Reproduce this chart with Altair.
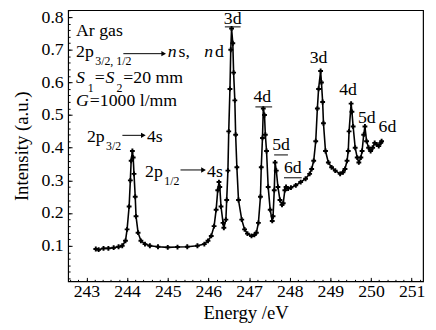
import altair as alt
import pandas as pd

# ---- spectrum ----
energy = [243.23, 243.30, 243.42, 243.54, 243.67, 243.79, 243.88, 243.96, 244.00, 244.05,
          244.08, 244.10, 244.13, 244.15, 244.17, 244.20, 244.22, 244.27, 244.34, 244.44,
          244.56, 244.76, 245.00, 245.24, 245.48, 245.73, 245.90, 245.99, 246.07, 246.14,
          246.19, 246.23, 246.26, 246.28, 246.31, 246.36, 246.38, 246.43, 246.45, 246.48,
          246.50, 246.53, 246.55, 246.57, 246.60, 246.62, 246.65, 246.67, 246.70, 246.74,
          246.82, 246.89, 246.96, 247.06, 247.13, 247.18, 247.23, 247.28, 247.30, 247.33,
          247.35, 247.38, 247.40, 247.43, 247.47, 247.52, 247.57, 247.59, 247.62, 247.64,
          247.67, 247.71, 247.76, 247.81, 247.84, 247.88, 247.91, 247.96, 248.03, 248.15,
          248.27, 248.39, 248.49, 248.54, 248.59, 248.64, 248.68, 248.71, 248.76, 248.78,
          248.81, 248.83, 248.88, 248.95, 249.03, 249.12, 249.24, 249.31, 249.36, 249.41,
          249.44, 249.46, 249.51, 249.53, 249.56, 249.61, 249.66, 249.70, 249.75, 249.78,
          249.82, 249.85, 249.89, 249.94, 249.99, 250.04, 250.09, 250.14, 250.19, 250.24,
          250.26]
intensity = [0.090, 0.088, 0.092, 0.092, 0.094, 0.097, 0.100, 0.115, 0.150, 0.220,
             0.300, 0.360, 0.390, 0.370, 0.320, 0.250, 0.190, 0.140, 0.115, 0.105,
             0.100, 0.097, 0.095, 0.096, 0.097, 0.100, 0.105, 0.115, 0.130, 0.160,
             0.210, 0.270, 0.295, 0.280, 0.220, 0.170, 0.155, 0.180, 0.240, 0.330,
             0.450, 0.580, 0.700, 0.765, 0.720, 0.630, 0.545, 0.440, 0.340, 0.240,
             0.180, 0.150, 0.137, 0.130, 0.133, 0.140, 0.170, 0.250, 0.340, 0.430,
             0.520, 0.500, 0.440, 0.390, 0.280, 0.210, 0.176, 0.190, 0.270, 0.355,
             0.330, 0.280, 0.240, 0.225, 0.230, 0.270, 0.280, 0.275, 0.278, 0.285,
             0.295, 0.305, 0.320, 0.335, 0.360, 0.420, 0.520, 0.580, 0.635, 0.600,
             0.540, 0.475, 0.390, 0.355, 0.340, 0.330, 0.320, 0.325, 0.335, 0.360,
             0.390, 0.450, 0.535, 0.510, 0.465, 0.400, 0.370, 0.355, 0.370, 0.390,
             0.440, 0.465, 0.420, 0.400, 0.390, 0.400, 0.415, 0.410, 0.405, 0.415,
             0.420]

# ---- axes ----
x_ticks = [243, 244, 245, 246, 247, 248, 249, 250, 251]
y_ticks = [0.1, 0.2, 0.3, 0.4, 0.5, 0.6, 0.7, 0.8]
x_minor = [round(242.6 + 0.2 * i, 1) for i in range(44)]
y_minor = [round(0.02 * i, 2) for i in range(42)]
x_domain = [242.55, 251.28]
y_domain = [-0.009, 0.821]

# ---- annotations ----
norm_text = ["Ar gas", "2p", "=", "=20 mm", "=1000 l/mm", "2p", "4s", "2p", "4s", "s,", "d"]
norm_x = [242.744, 242.744, 243.205, 243.908, 243.083, 243.011, 244.489, 244.441, 245.968, 245.265, 246.162]
norm_y = [0.758, 0.694, 0.613, 0.613, 0.544, 0.432, 0.432, 0.326, 0.326, 0.694, 0.694]

ital_text = ["n", "n", "S", "S", "G"]
ital_x = [245.0, 245.895, 242.744, 243.471, 242.744]
ital_y = [0.694, 0.694, 0.613, 0.613, 0.544]

sub_text = ["3/2, 1/2", "1", "2", "3/2", "1/2"]
sub_x = [243.217, 243.035, 243.738, 243.483, 244.914]
sub_y = [0.664, 0.583, 0.583, 0.405, 0.299]

peak_text = ["3d", "4d", "5d", "6d", "3d", "4d", "5d", "6d"]
peak_x = [246.598, 247.325, 247.786, 248.077, 248.708, 249.435, 249.895, 250.404]
peak_y = [0.795, 0.556, 0.408, 0.338, 0.673, 0.577, 0.492, 0.462]

uline_x1 = [246.405, 247.156, 247.617, 247.859]
uline_x2 = [246.792, 247.568, 247.956, 248.295]
uline_y = [0.770, 0.525, 0.378, 0.308]

arrow_x1 = [243.908, 243.884, 245.314]
arrow_x2 = [244.900, 244.400, 245.880]
arrow_y = [0.688, 0.438, 0.332]

FONT = "Liberation Serif, DejaVu Serif, Times New Roman, serif"

spec = pd.DataFrame({"E": energy, "I": intensity})
xs = alt.Scale(domain=x_domain, nice=False, zero=False)
ys = alt.Scale(domain=y_domain, nice=False, zero=False)

x_axis = alt.Axis(values=x_ticks, format="d", title="Energy /eV", offset=-4, tickSize=4,
                  domain=False, grid=False, labelPadding=1, titlePadding=4, labelOverlap=False,
                  labelFont=FONT, titleFont=FONT,
                  labelFontSize=18, titleFontSize=19, orient="bottom")
y_axis = alt.Axis(values=y_ticks, format=".1f", title="Intensity (a.u.)", offset=-4, tickSize=4,
                  domain=False, grid=False, labelPadding=5, titlePadding=10, labelOverlap=False,
                  labelFont=FONT, titleFont=FONT,
                  labelFontSize=18, titleFontSize=19, orient="left")

line = alt.Chart(spec).mark_line(color="black", strokeWidth=1.6).encode(
    x=alt.X("E:Q", scale=xs, axis=x_axis),
    y=alt.Y("I:Q", scale=ys, axis=y_axis),
)
pts = alt.Chart(spec).mark_point(shape="cross", size=24, filled=True, color="black", opacity=1).encode(
    x=alt.X("E:Q", scale=xs, axis=x_axis), y=alt.Y("I:Q", scale=ys, axis=y_axis)
)

def texts(t, x, y, size, style="normal", align="left"):
    df = pd.DataFrame({"t": t, "x": x, "y": y})
    return alt.Chart(df).mark_text(font=FONT, fontSize=size, fontStyle=style, align=align,
                                   baseline="middle", color="black").encode(
        x=alt.X("x:Q", scale=xs, axis=x_axis), y=alt.Y("y:Q", scale=ys, axis=y_axis), text="t:N")

t_norm = texts(norm_text, norm_x, norm_y, 18)
t_ital = texts(ital_text, ital_x, ital_y, 18, style="italic")
t_sub = texts(sub_text, sub_x, sub_y, 12)
t_peak = texts(peak_text, peak_x, peak_y, 18, align="center")

ul = pd.DataFrame({"x1": uline_x1, "x2": uline_x2, "y": uline_y})
ulines = alt.Chart(ul).mark_rule(color="black", strokeWidth=1).encode(
    x=alt.X("x1:Q", scale=xs, axis=x_axis), x2="x2:Q", y=alt.Y("y:Q", scale=ys, axis=y_axis))

ar = pd.DataFrame({"x1": arrow_x1, "x2": arrow_x2, "y": arrow_y})
arrows = alt.Chart(ar).mark_rule(color="black", strokeWidth=1).encode(
    x=alt.X("x1:Q", scale=xs, axis=x_axis), x2="x2:Q", y=alt.Y("y:Q", scale=ys, axis=y_axis))
heads = alt.Chart(ar).mark_point(shape="triangle-right", size=30, filled=True, color="black", opacity=1).encode(
    x=alt.X("x2:Q", scale=xs, axis=x_axis), y=alt.Y("y:Q", scale=ys, axis=y_axis))

main = alt.layer(line, pts, t_norm, t_ital, t_sub, t_peak, ulines, arrows, heads)

minor = alt.Chart(spec).mark_point(opacity=0).encode(
    x=alt.X("E:Q", scale=xs, axis=alt.Axis(values=x_minor, labels=False, title=None, offset=-2,
                                            tickSize=2, domain=False, grid=False, orient="bottom")),
    y=alt.Y("I:Q", scale=ys, axis=alt.Axis(values=y_minor, labels=False, title=None, offset=-2,
                                            tickSize=2, domain=False, grid=False, orient="left")),
)

chart = alt.layer(main, minor).resolve_axis(x="independent", y="independent").properties(
    width=360, height=275,
    autosize=alt.AutoSizeParams(type="none"),
    padding={"left": 61, "top": 0, "right": 5, "bottom": 40},
).configure_view(stroke="black", strokeWidth=1.2).configure_axis(
    labelFont=FONT, titleFont=FONT, labelColor="black", titleColor="black",
    tickColor="black", titleFontWeight="normal", tickWidth=1, labelOverlap=False,
)

chart.save("out.html", embed_options={"renderer": "svg", "actions": False})
